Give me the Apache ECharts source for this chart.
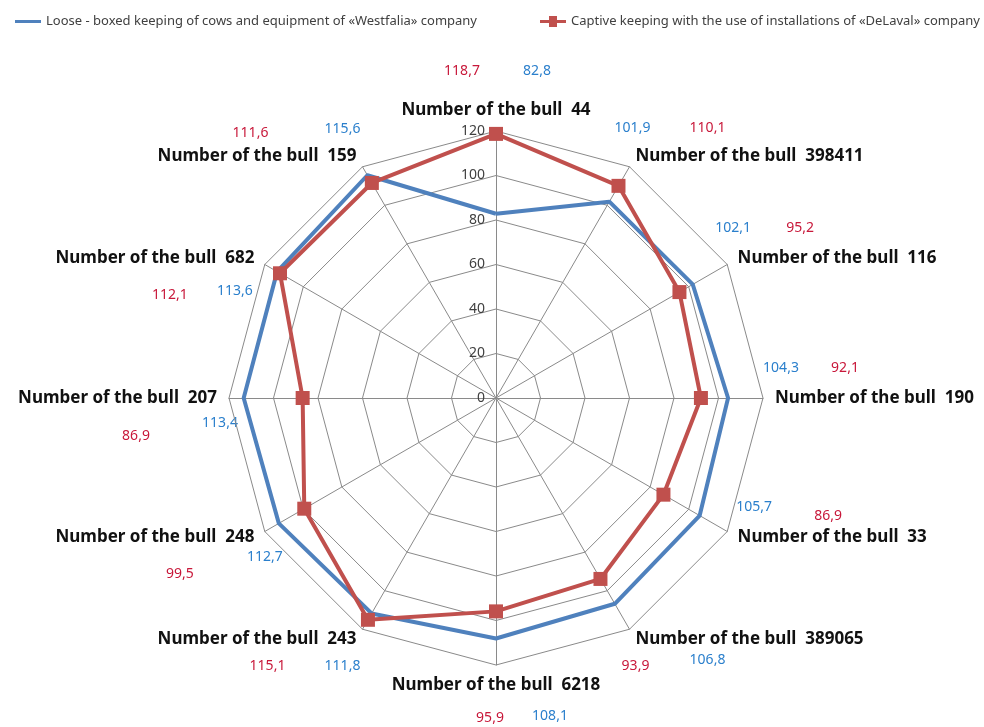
<!DOCTYPE html>
<html>
<head>
<meta charset="utf-8">
<title>Radar</title>
<script src="https://cdn.jsdelivr.net/npm/echarts@6/dist/echarts.min.js"></script>
<style>
  html, body { margin: 0; padding: 0; background: #fff; }
  #chart { width: 984px; height: 727px; }
</style>
</head>
<body>
<div id="chart"></div>
<script>
// bulls go round the radar counterclockwise, starting at the top
const bulls = ['44', '159', '682', '207', '248', '243', '6218', '389065', '33', '190', '116', '398411'];
const westfalia = [82.8, 115.6, 113.6, 113.4, 112.7, 111.8, 108.1, 106.8, 105.7, 104.3, 102.1, 101.9];
const delaval = [118.7, 111.6, 112.1, 86.9, 99.5, 115.1, 95.9, 93.9, 86.9, 92.1, 95.2, 110.1];
const ticks = [0, 20, 40, 60, 80, 100, 120];

const seriesNames = [
  'Loose - boxed keeping of cows and equipment of «Westfalia» company',
  'Captive keeping with the use of installations of «DeLaval» company'
];

const BLUE = '#4F81BD';
const RED = '#C0504D';
const BLUE_TXT = '#2A7FCC';
const RED_TXT = '#C8183A';

// where the value captions sit, relative to the end of each axis (px)
const redOff = [[-34, -60], [-112, -34], [-95, 31], [-93, 38], [-85, 43], [-95, 37],
  [-6, 53], [6, 37], [101, -15], [82, -30], [73, -36], [78, -39]];
const blueOff = [[41, -60], [-20, -38], [-30, 27], [-9, 25], [0, 26], [-20, 37],
  [54, 51], [78, 31], [27, -24], [18, -30], [6, -36], [3, -39]];

const cx = 496, cy = 398, R = 267;
const maxVal = ticks[ticks.length - 1];

const fmt = v => v.toFixed(1).replace('.', ',');

const indicator = bulls.map((b, i) => {
  const ind = { name: 'Number of the bull  ' + b, min: 0, max: maxVal };
  if (i === 0) ind.axisLabel = { show: true };
  return ind;
});

const graphic = [];
bulls.forEach((b, i) => {
  const a = (90 + i * 360 / bulls.length) * Math.PI / 180;
  const ex = cx + R * Math.cos(a);
  const ey = cy - R * Math.sin(a);
  graphic.push({
    type: 'text', silent: true,
    style: { text: fmt(delaval[i]), x: ex + redOff[i][0], y: ey + redOff[i][1],
      fill: RED_TXT, font: '14px "Noto Sans"', align: 'center', verticalAlign: 'middle' }
  });
  graphic.push({
    type: 'text', silent: true,
    style: { text: fmt(westfalia[i]), x: ex + blueOff[i][0], y: ey + blueOff[i][1],
      fill: BLUE_TXT, font: '14px "Noto Sans"', align: 'center', verticalAlign: 'middle' }
  });
});

const chart = echarts.init(document.getElementById('chart'));
chart.setOption({
  animation: false,
  backgroundColor: '#fff',
  legend: [
    {
      data: [{ name: seriesNames[0], icon: 'rect' }],
      left: 10, top: 10,
      itemWidth: 26, itemHeight: 3, itemGap: 4,
      textStyle: { color: '#404040', fontSize: 13, fontFamily: 'Noto Sans' }
    },
    {
      data: [{ name: seriesNames[1], icon: 'path://M0,4H9V0h8v4h9v3H17v4H9V7H0z' }],
      left: 535, top: 10,
      itemWidth: 26, itemHeight: 11, itemGap: 4,
      textStyle: { color: '#404040', fontSize: 13, fontFamily: 'Noto Sans' }
    }
  ],
  radar: {
    center: [cx, cy],
    radius: R,
    startAngle: 90,
    shape: 'polygon',
    splitNumber: ticks.length - 1,
    indicator: indicator,
    nameGap: 12,
    axisName: {
      color: '#111',
      fontSize: 17,
      fontWeight: 'bold',
      fontFamily: 'Noto Sans'
    },
    axisLine: { lineStyle: { color: '#8a8a8a', width: 1 } },
    splitLine: { lineStyle: { color: '#8a8a8a', width: 1 } },
    splitArea: { show: false },
    axisTick: { show: false },
    axisLabel: {
      show: false,
      color: '#404040',
      fontSize: 14,
      fontFamily: 'Noto Sans',
      margin: 11
    }
  },
  series: [{
    type: 'radar',
    data: [
      {
        name: seriesNames[0],
        value: westfalia,
        symbol: 'none',
        lineStyle: { color: BLUE, width: 4 },
        itemStyle: { color: BLUE }
      },
      {
        name: seriesNames[1],
        value: delaval,
        symbol: 'rect',
        symbolSize: 14,
        lineStyle: { color: RED, width: 4 },
        itemStyle: { color: RED }
      }
    ]
  }],
  graphic: graphic
});
</script>
</body>
</html>
